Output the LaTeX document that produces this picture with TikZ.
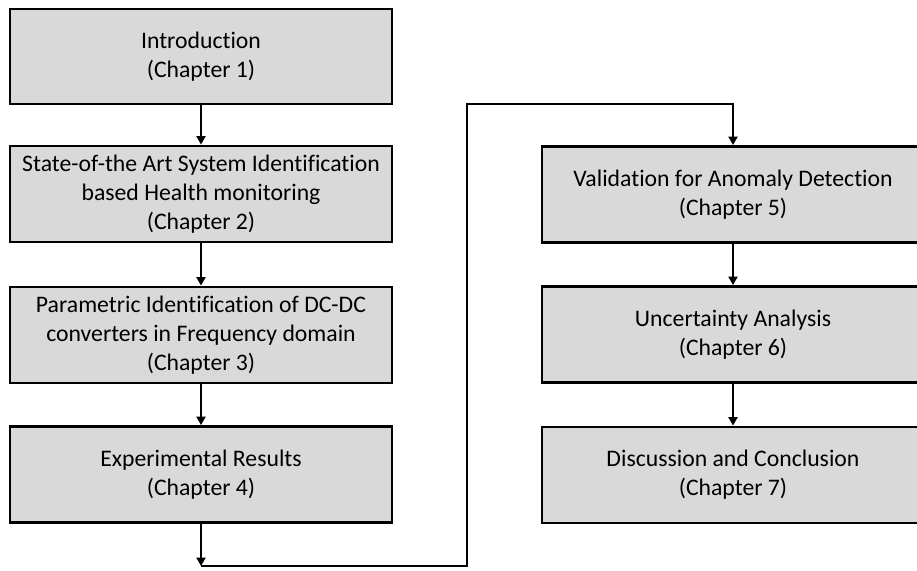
\documentclass[tikz,border=0pt]{standalone}
\usepackage{fontspec}
\setmainfont{Carlito}[Ligatures=NoCommon]
\usetikzlibrary{arrows.meta}
\definecolor{boxgray}{RGB}{217,217,217}
\begin{document}
\begin{tikzpicture}[font=\fontsize{13.5}{16.5}\selectfont, >={Triangle[length=0.17cm,width=0.18cm]},
      box/.style={draw, line width=1.6pt, fill=boxgray, align=center, minimum width=7.64cm, minimum height=1.92cm},
      link/.style={->, line width=1.3pt}]
    \useasboundingbox (0,0) rectangle (18.34,-11.4);
    \node[box, minimum height=1.9cm] (intro) at (4.02,-1.13) {Introduction\\(Chapter 1)};
    \node[box] (stateart) at (4.02,-3.88) {State-of-the Art System Identification\\based Health monitoring\\(Chapter 2)};
    \node[box] (paramid) at (4.02,-6.70) {Parametric Identification of DC-DC\\converters in Frequency domain\\(Chapter 3)};
    \node[box] (results) at (4.02,-9.49) {Experimental Results\\(Chapter 4)};
    \node[box] (valid) at (14.66,-3.89) {Validation for Anomaly Detection\\(Chapter 5)};
    \node[box] (uncert) at (14.66,-6.69) {Uncertainty Analysis\\(Chapter 6)};
    \node[box] (concl) at (14.66,-9.50) {Discussion and Conclusion\\(Chapter 7)};
    \coordinate (turnlow) at (4.02,-11.32);
    \coordinate (turnhigh) at (9.34,-2.08);
    \draw[link] (intro) -- (stateart);
    \draw[link] (stateart) -- (paramid);
    \draw[link] (paramid) -- (results);
    \draw[link] (results) -- (turnlow);
    \draw[link] (turnlow) -| (turnhigh) -| (valid.north);
    \draw[link] (valid) -- (uncert);
    \draw[link] (uncert) -- (concl);
  \end{tikzpicture}
\end{document}
